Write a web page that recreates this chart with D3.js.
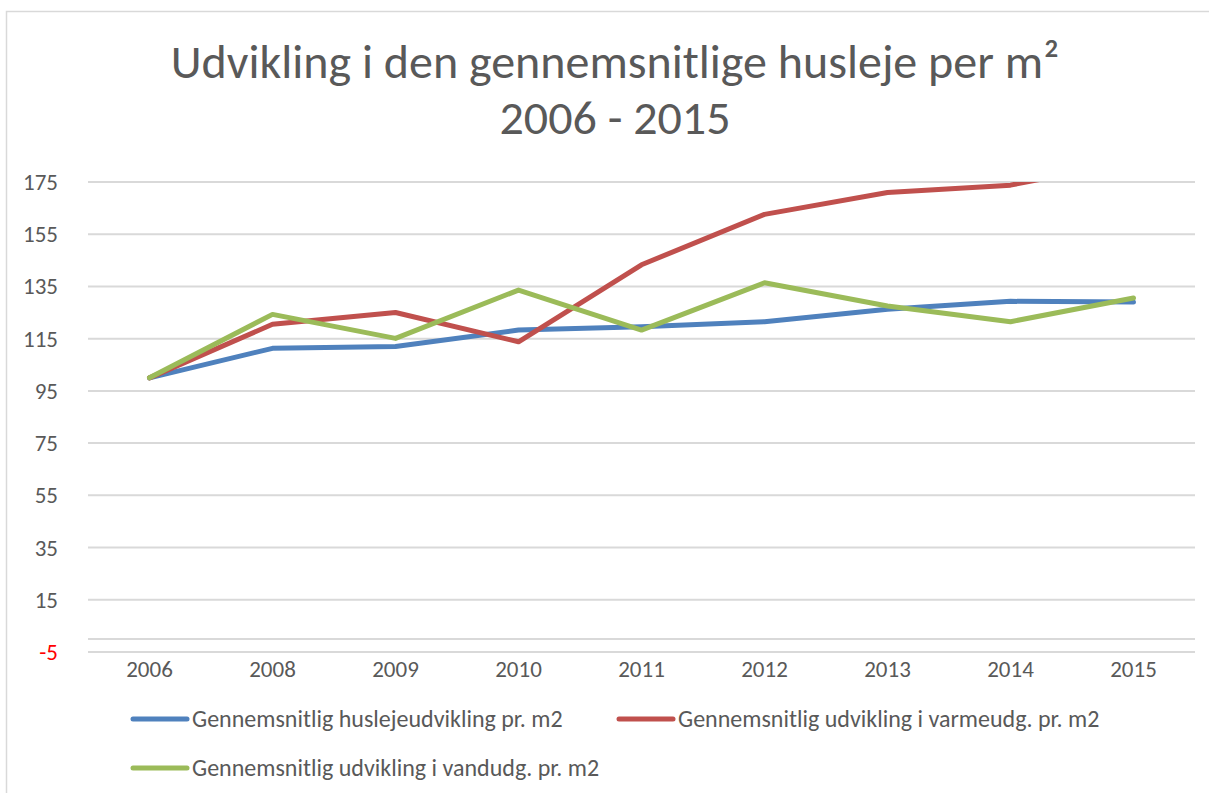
<!DOCTYPE html>
<html>
<head>
<meta charset="utf-8">
<script src="https://cdn.jsdelivr.net/npm/d3@7"></script>
<style>
  body { margin: 0; background: #fff; }
  text { font-family: Carlito, "Open Sans", "Liberation Sans", sans-serif; fill: #595959; }
</style>
</head>
<body>
<div id="chart"></div>
<script>
var years = ['2006', '2008', '2009', '2010', '2011', '2012', '2013', '2014', '2015']
var yTicks = [-5, 15, 35, 55, 75, 95, 115, 135, 155, 175]
var seriesNames = [
  'Gennemsnitlig huslejeudvikling pr. m2',
  'Gennemsnitlig udvikling i varmeudg. pr. m2',
  'Gennemsnitlig udvikling i vandudg. pr. m2'
]
var husleje = [100, 111.3, 112, 118.3, 119.6, 121.5, 126.3, 129.3, 129]
var varme = [100, 120.5, 125, 113.8, 143.3, 162.6, 171, 173.8, 183]
var vand = [100, 124.3, 115.1, 133.6, 118.3, 136.4, 127.5, 121.5, 130.6]
var colors = ['#4F81BD', '#C0504D', '#9BBB59']

var W = 1209, H = 793
var svg = d3.select('#chart').append('svg')
  .attr('width', W).attr('height', H)

// chart border (only top and left are visible)
svg.append('path')
  .attr('d', 'M6.5,' + H + 'V11.5H' + W)
  .attr('fill', 'none').attr('stroke', '#d9d9d9').attr('stroke-width', 1.5)

// title
svg.append('text')
  .attr('x', 615).attr('y', 78)
  .attr('text-anchor', 'middle')
  .style('font-size', '48px')
  .text('Udvikling i den gennemsnitlige husleje per m²')
svg.append('text')
  .attr('x', 615).attr('y', 134)
  .attr('text-anchor', 'middle')
  .style('font-size', '48px')
  .text('2006 - 2015')

var x = d3.scalePoint().domain(years).range([88, 1195]).padding(0.5)
var y = d3.scaleLinear().domain([-5, 175]).range([652, 182])

// gridlines
svg.append('g').selectAll('line')
  .data(yTicks)
  .enter().append('line')
  .attr('x1', 88).attr('x2', 1195)
  .attr('y1', function (d) { return y(d) }).attr('y2', function (d) { return y(d) })
  .attr('stroke', '#d9d9d9').attr('stroke-width', 2)

// horizontal axis line at 0
svg.append('line')
  .attr('x1', 88).attr('x2', 1195)
  .attr('y1', y(0)).attr('y2', y(0))
  .attr('stroke', '#d9d9d9').attr('stroke-width', 2)

// y labels
svg.append('g').selectAll('text')
  .data(yTicks)
  .enter().append('text')
  .attr('x', 58)
  .attr('y', function (d) { return y(d) + 8 })
  .attr('text-anchor', 'end')
  .style('font-size', '23px')
  .style('fill', function (d) { return d < 0 ? '#ff0000' : '#595959' })
  .text(function (d) { return d })

// x labels
svg.append('g').selectAll('text')
  .data(years)
  .enter().append('text')
  .attr('x', function (d) { return x(d) })
  .attr('y', 677)
  .attr('text-anchor', 'middle')
  .style('font-size', '23px')
  .text(function (d) { return d })

// clip to plot area
svg.append('clipPath').attr('id', 'plotClip')
  .append('rect')
  .attr('x', 80).attr('y', y(175))
  .attr('width', 1120).attr('height', y(-5) - y(175))

var line = d3.line()
  .x(function (d, i) { return x(years[i]) })
  .y(function (d) { return y(d) })

var allSeries = [husleje, varme, vand]
svg.append('g').attr('clip-path', 'url(#plotClip)')
  .selectAll('path')
  .data(allSeries)
  .enter().append('path')
  .attr('d', line)
  .attr('fill', 'none')
  .attr('stroke', function (d, i) { return colors[i] })
  .attr('stroke-width', 5)
  .attr('stroke-linejoin', 'round')
  .attr('stroke-linecap', 'round')

// legend
var legendPos = [{x: 133, y: 719}, {x: 619, y: 719}, {x: 133, y: 768}]
var legend = svg.append('g').selectAll('g')
  .data(seriesNames)
  .enter().append('g')
  .attr('transform', function (d, i) { return 'translate(' + legendPos[i].x + ',' + legendPos[i].y + ')' })
legend.append('line')
  .attr('x1', 0).attr('x2', 54)
  .attr('y1', 0).attr('y2', 0)
  .attr('stroke', function (d, i) { return colors[i] })
  .attr('stroke-width', 5)
  .attr('stroke-linecap', 'round')
legend.append('text')
  .attr('x', 59).attr('y', 8)
  .style('font-size', '24px')
  .text(function (d) { return d })
</script>
</body>
</html>
